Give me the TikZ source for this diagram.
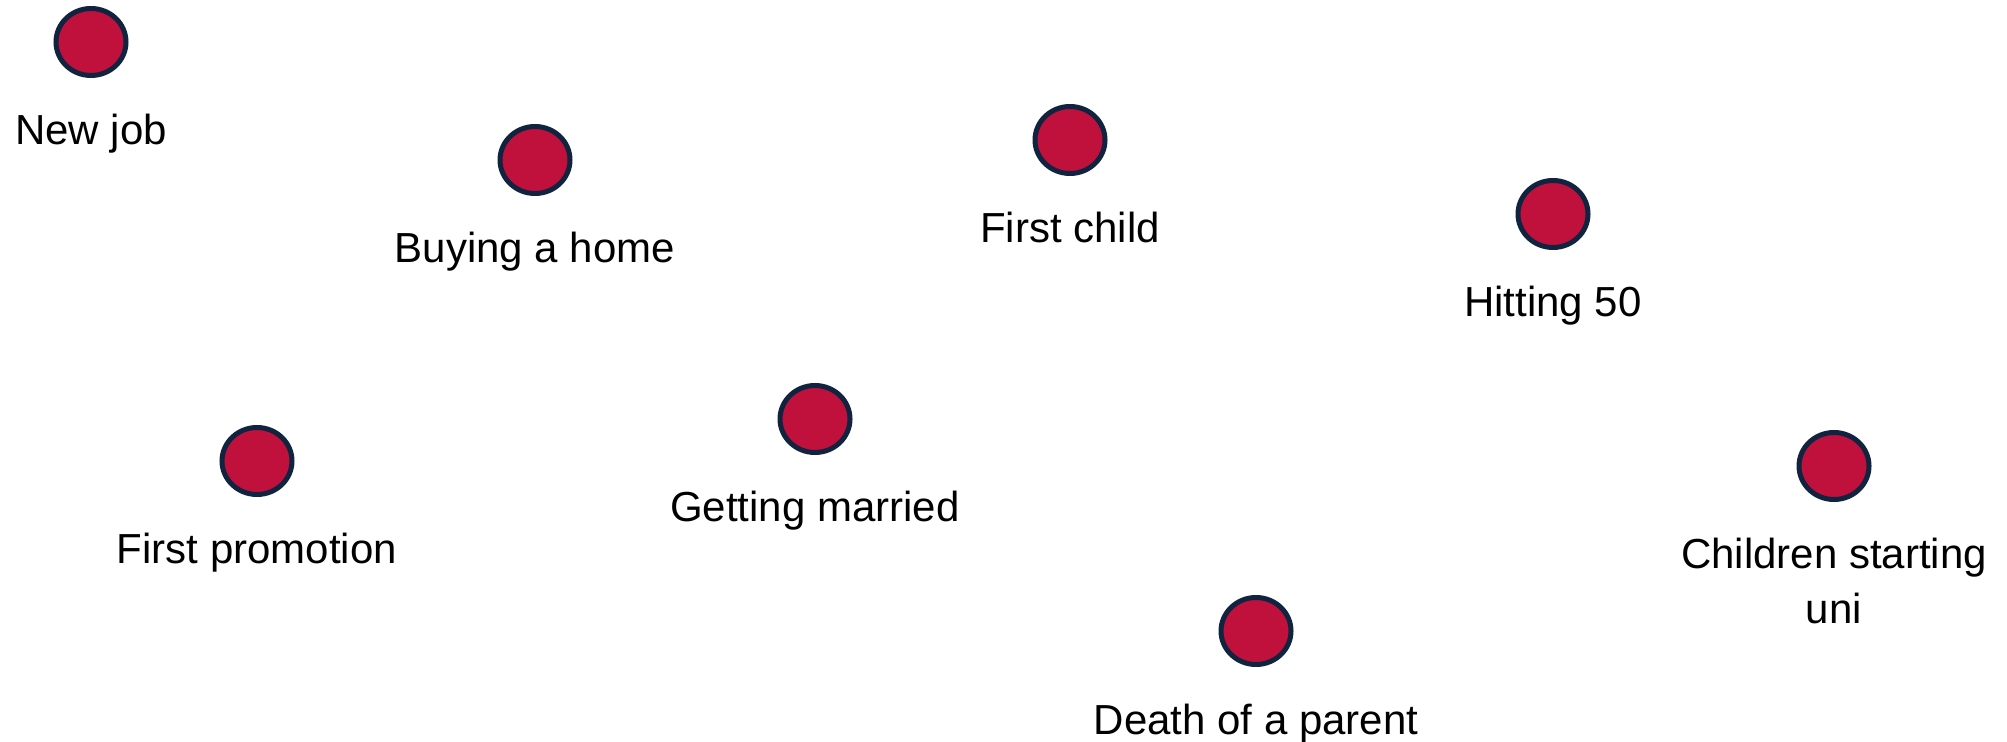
\documentclass[tikz,border=0pt]{standalone}
\usepackage{fontspec}
\setmainfont{Liberation Sans}
\usetikzlibrary{shapes.geometric}

\definecolor{dotred}{RGB}{192,16,60}
\definecolor{dotblue}{RGB}{16,36,64}

\tikzset{
  dot/.style={ellipse,draw=dotblue,fill=dotred,line width=2.5pt,minimum width=35pt,minimum height=33.5pt,inner sep=0pt},
  lbl/.style={font=\fontsize{21pt}{28pt}\selectfont,inner sep=0pt,align=center,anchor=base}
}

\begin{document}
\begin{tikzpicture}[x=0.5pt,y=0.5pt,yscale=-1,xscale=1]
\useasboundingbox (0,0) rectangle (2007,742);

%Dots
\node [dot] (newjob) at (91,42) {};
\node [dot] (home) at (535,160) {};
\node [dot] (child) at (1070,140) {};
\node [dot] (fifty) at (1553,214) {};
\node [dot] (promotion) at (257,461) {};
\node [dot] (married) at (815,419) {};
\node [dot] (parent) at (1256,631) {};
\node [dot] (uni) at (1834,466) {};

% Text Node
\node [lbl] (newjobtxt) at ([yshift=51.5pt]newjob.center) {New job};
% Text Node
\node [lbl] (hometxt) at ([yshift=51.5pt]home.center) {Buying a home};
% Text Node
\node [lbl] (childtxt) at ([yshift=51.5pt]child.center) {First child};
% Text Node
\node [lbl] (fiftytxt) at ([yshift=51.5pt]fifty.center) {Hitting 50};
% Text Node
\node [lbl] (promotiontxt) at ([yshift=51.5pt]promotion.center) {First promotion};
% Text Node
\node [lbl] (marriedtxt) at ([yshift=51.5pt]married.center) {Getting married};
% Text Node
\node [lbl] (parenttxt) at ([yshift=51.5pt]parent.center) {Death of a parent};
% Text Node
\node [lbl] (unitxt) at ([yshift=79pt]uni.center) {Children starting\\uni};

\end{tikzpicture}
\end{document}
